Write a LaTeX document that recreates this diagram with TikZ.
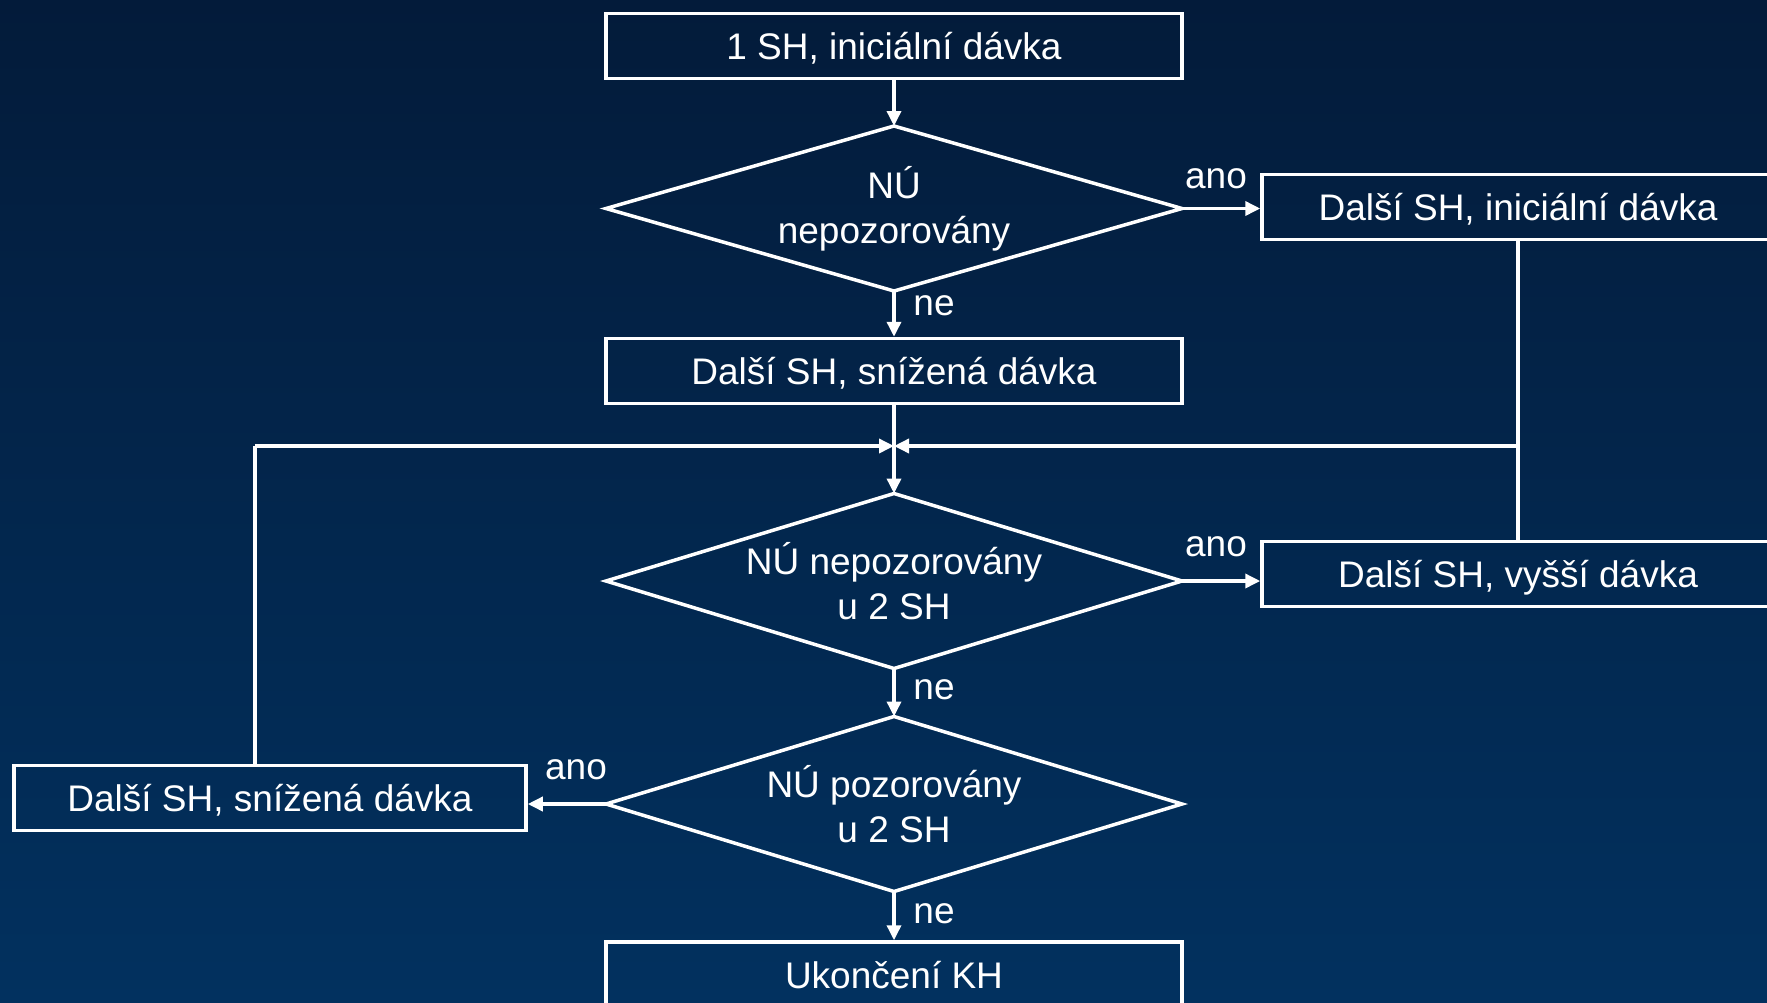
\documentclass[tikz,border=0pt]{standalone}
\usepackage{fontspec}
\setmainfont{Liberation Sans}
\usetikzlibrary{shapes.geometric,arrows.meta}
\definecolor{bgtop}{HTML}{031B3A}
\definecolor{bgbot}{HTML}{02315F}
\begin{document}
\begin{tikzpicture}[x=1pt,y=-1pt,
  txt/.style={text=white, font=\fontsize{37}{45}\selectfont},
  box/.style={txt, draw=white, line width=3.5pt, minimum height=65pt, inner sep=0pt, text height=31pt, text depth=4pt},
  dec/.style={txt, inner sep=0pt, outer sep=0pt, minimum width=576pt, align=center},
  conn/.style={draw=white, line width=3.5pt},
  arr/.style={conn, -{Triangle[length=15pt,width=14pt]}},
  lab/.style={txt, inner sep=0pt}]
\shade[top color=bgtop, bottom color=bgbot] (0,0) rectangle (1767,1002);
\useasboundingbox (0,0) rectangle (1767,1002);
\node[box, minimum width=576pt] (b1) at (894,46) {1 SH, iniciální dávka};
\node[dec, minimum height=165pt] (d1) at (894,208.5) {NÚ\\nepozorovány};
\node[box, minimum width=512pt] (r1) at (1518,207) {Další SH, iniciální dávka};
\node[box, minimum width=576pt] (b2) at (894,371) {Další SH, snížená dávka};
\coordinate (j) at (894,446);
\node[dec, minimum height=175pt] (d2) at (894,581) {NÚ nepozorovány\\u 2 SH};
\node[box, minimum width=512pt] (r2) at (1518,574) {Další SH, vyšší dávka};
\node[dec, minimum height=175pt] (d3) at (894,804) {NÚ pozorovány\\u 2 SH};
\node[box, minimum width=512pt] (l1) at (270,798) {Další SH, snížená dávka};
\node[box, minimum width=576pt] (b3) at (894,974.5) {Ukon\v{c}ení KH};
\coordinate (lc) at (255,446);
% diamond outlines
\foreach \d in {d1,d2,d3}
  \draw[conn, line join=miter] (\d.north) -- (\d.east) -- (\d.south) -- (\d.west) -- cycle;
% connectors
\draw[arr] (b1.south) -- (d1.north);
\draw[arr] (d1.south) -- (b2.north);
\draw[arr] (d1.east) -- (d1.east -| r1.west);
\draw[conn] (b2.south) -- (j);
\draw[arr] (j) -- (d2.north);
\draw[arr] (d2.east) -- (d2.east -| r2.west);
\draw[arr] (d2.south) -- (d3.north);
\draw[arr] (d3.west) -- (d3.west -| l1.east);
\draw[arr] (d3.south) -- (b3.north);
\draw[conn] (r1.south) -- (r2.north);
\draw[arr] (r1.south |- j) -- (j);
\draw[conn] (l1.north -| lc) -- (lc);
\draw[arr] (lc) -- (j);
% labels
\node[lab] (a1) at (1216,179) {ano};
\node[lab] (n1) at (934,306) {ne};
\node[lab] (a2) at (1216,547) {ano};
\node[lab] (n2) at (934,690) {ne};
\node[lab] (a3) at (576,770) {ano};
\node[lab] (n3) at (934,913.5) {ne};
\end{tikzpicture}
\end{document}
